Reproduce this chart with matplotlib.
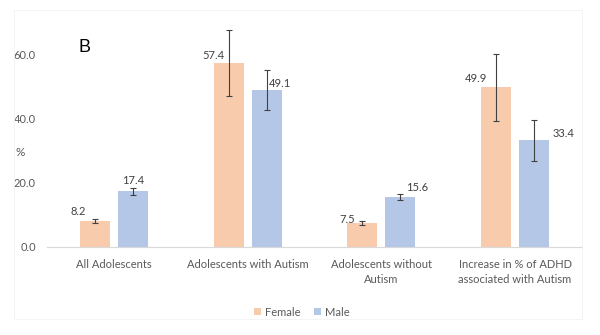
import matplotlib
matplotlib.use('Agg')
import numpy as np
import matplotlib.pyplot as plt
from matplotlib.patches import Rectangle

plt.rcParams['font.family'] = ['Lato', 'DejaVu Sans']

# --- data ---
categories = ['All Adolescents', 'Adolescents with Autism',
              'Adolescents without\nAutism',
              'Increase in % of ADHD\nassociated with Autism']
female = [8.2, 57.4, 7.5, 49.9]
male = [17.4, 49.1, 15.6, 33.4]
female_err = [0.6, 10.3, 0.6, 10.4]
male_err = [1.0, 6.3, 0.9, 6.4]

# label offsets in pixels (dx, dy) from bar top centre
female_lbl_off = [(-17, 9), (-15, 8), (-15, 3), (-20, 9)]
male_lbl_off = [(0, 11), (13, 6), (17, 10), (29, 7)]

c_female = '#F8CBAD'
c_male = '#B4C7E7'
txt = '#595959'

fig = plt.figure(figsize=(6, 3.35), dpi=100)
ax = fig.add_axes([0.0783, 0.2627, 0.8917, 0.6687])

x = np.arange(len(categories))
w = 0.224
off = 0.142

ax.bar(x - off, female, w, color=c_female, label='Female', zorder=2)
ax.bar(x + off, male, w, color=c_male, label='Male', zorder=2)
ax.errorbar(x - off, female, yerr=female_err, fmt='none', ecolor='#404040',
            elinewidth=0.8, capsize=2, capthick=0.8, zorder=3)
ax.errorbar(x + off, male, yerr=male_err, fmt='none', ecolor='#404040',
            elinewidth=0.8, capsize=2, capthick=0.8, zorder=3)

for i in range(len(categories)):
    ax.annotate(f'{female[i]:.1f}', (x[i] - off, female[i]), xytext=female_lbl_off[i],
                textcoords='offset pixels', ha='center', va='center',
                fontsize=8, color='#404040')
    ax.annotate(f'{male[i]:.1f}', (x[i] + off, male[i]), xytext=male_lbl_off[i],
                textcoords='offset pixels', ha='center', va='center',
                fontsize=8, color='#404040')

ax.set_xlim(-0.5, 3.5)
ax.set_ylim(0, 70)
ax.set_yticks([0, 20, 40, 60])
ax.set_yticklabels([f'{v:.1f}' for v in [0, 20, 40, 60]])
ax.set_xticks(x)
ax.set_xticklabels(categories, linespacing=1.35)
ax.tick_params(axis='y', length=0, pad=8, labelsize=8, labelcolor=txt)
ax.tick_params(axis='x', length=0, pad=9, labelsize=8, labelcolor=txt)
for s in ['top', 'right', 'left']:
    ax.spines[s].set_visible(False)
ax.spines['bottom'].set_color('#D9D9D9')
ax.spines['bottom'].set_linewidth(0.8)

fig.text(20 / 600, 1 - 152 / 335, '%', ha='center', va='center', fontsize=8.5, color=txt)
fig.text(84 / 600, 1 - 48 / 335, 'B', ha='center', va='center', fontsize=13, color='black',
         family=['Liberation Sans', 'DejaVu Sans'])

fig.legend(loc='center', bbox_to_anchor=(302 / 600, 1 - 312 / 335), ncol=2, frameon=False,
           fontsize=8, handlelength=0.6, handleheight=0.6, handletextpad=0.4,
           columnspacing=1.2, labelcolor=txt)

# faint chart border
fig.patches.append(Rectangle((14 / 600, 1 - 319 / 335), 568 / 600, 309 / 335,
                             transform=fig.transFigure, fill=False,
                             edgecolor='#F2F2F2', linewidth=0.6))

fig.savefig('out.png', dpi=100)
